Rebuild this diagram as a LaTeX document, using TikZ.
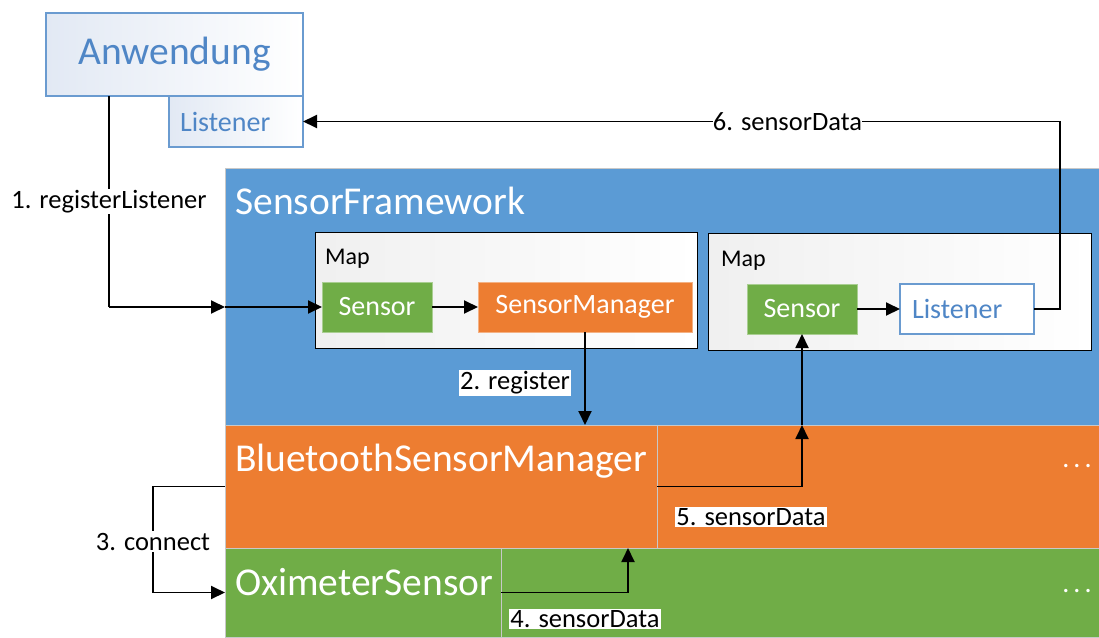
\documentclass[tikz,border=0pt]{standalone}
\usepackage{fontspec}
\setmainfont{Carlito}
\usetikzlibrary{arrows.meta}
\definecolor{fwblue}{HTML}{5B9BD5}
\definecolor{mgrorange}{HTML}{ED7D31}
\definecolor{snsgreen}{HTML}{70AD47}
\definecolor{appblue}{HTML}{4F86C6}
\definecolor{appedge}{HTML}{6A9BD0}
\definecolor{paleblue}{HTML}{E2E9F4}
\definecolor{rimgray}{HTML}{C8C8C8}
\tikzset{
  area/.style={draw=rimgray, line width=1pt, anchor=north west, inner sep=0pt, outer sep=0pt},
  appbox/.style={draw=appedge, line width=1.2pt, left color=paleblue, right color=white,
                 anchor=north west, outer sep=0pt},
  mapbox/.style={draw=black, line width=1pt, left color=black!6, right color=white,
                 anchor=north west, inner sep=0pt, outer sep=0pt},
  item/.style={anchor=north west, inner sep=0pt, outer sep=0pt, minimum height=50pt,
               font=\fontsize{28}{30}\selectfont, text=white},
  bigtitle/.style={anchor=base west, inner sep=0pt, text=white, font=\fontsize{39.5}{41}\selectfont},
  maptitle/.style={anchor=base west, inner sep=0pt, font=\fontsize{24}{26}\selectfont},
  dots/.style={inner sep=0pt, text=white, font=\fontsize{28}{30}\selectfont},
  conn/.style={line width=1.9pt},
  arrowend/.style={-{Triangle[length=14pt,width=13pt]}},
  lbl/.style={fill=white, inner sep=1.5pt, font=\fontsize{26.5}{28}\selectfont},
}
\newcommand{\spreaddots}{.\hspace{4pt}.\hspace{4pt}.}
\begin{document}
\begin{tikzpicture}[x=1pt,y=-1pt]
\useasboundingbox (0,0) rectangle (1099,637);

% application with its listener
\node[appbox, minimum width=257pt, minimum height=83pt, inner sep=0pt,
      text=appblue, font=\fontsize{39.5}{41}\selectfont] (anw) at (46,13) {Anwendung};
\node[appbox, minimum height=51pt, inner xsep=11pt, inner ysep=0pt, text width=112pt,
      align=left, text=appblue, font=\fontsize{28}{30}\selectfont] (lis1) at (169,96) {Listener};

% framework layer
\node[area, fill=fwblue, minimum width=874pt, minimum height=257pt] (sf) at (225,168) {};
\node[bigtitle] (sftitle) at (235,214) {SensorFramework};

\node[mapbox, minimum width=382pt, minimum height=116pt] (map1) at (315,232) {};
\node[maptitle] (map1title) at (325,264) {Map};
\node[item, fill=snsgreen, draw=snsgreen!60!white, minimum width=110pt] (s1) at (322,282) {Sensor};
\node[item, fill=mgrorange, draw=mgrorange!60!white, minimum width=214pt] (sm) at (478,282) {SensorManager};

\node[mapbox, minimum width=383pt, minimum height=117pt] (map2) at (708,233) {};
\node[maptitle] (map2title) at (721,266) {Map};
\node[item, fill=snsgreen, draw=snsgreen!60!white, minimum width=110pt] (s2) at (747,284) {Sensor};
\node[item, fill=white, draw=appedge, line width=1.2pt, minimum width=134pt,
      text width=110pt, inner xsep=12pt, align=left, text=appblue] (lis2) at (900,284) {Listener};

% manager layer
\node[area, fill=mgrorange, minimum width=432pt, minimum height=123pt] (bsm) at (225,425) {};
\node[bigtitle] (bsmtitle) at (235,471) {BluetoothSensorManager};
\node[area, fill=mgrorange, minimum width=442pt, minimum height=123pt] (bsmx) at (657,425) {};
\node[dots] (bsmdots) at (1077,466) {\spreaddots};

% sensor layer
\node[area, fill=snsgreen, minimum width=276pt, minimum height=89pt] (ox) at (225,548) {};
\node[bigtitle] (oxtitle) at (235,595) {OximeterSensor};
\node[area, fill=snsgreen, minimum width=598pt, minimum height=89pt] (oxx) at (501,548) {};
\node[dots] (oxdots) at (1077,591) {\spreaddots};

% routing columns
\coordinate (c1) at (109,0);
\coordinate (c3) at (153,0);
\coordinate (c4) at (628,0);
\coordinate (c6) at (1060,0);

% 1. registerListener
\draw[conn] (anw.south -| c1) -- node[lbl, pos=0.5] (t1) {1. registerListener} (c1 |- s1.west);
\draw[conn, arrowend] (c1 |- s1.west) -- (sf.west |- s1.west);
\draw[conn, arrowend] (sf.west |- s1.west) -- (s1.west);
\draw[conn, arrowend] (s1.east) -- (sm.west);

% 2. register
\draw[conn, arrowend] (sm.south) -- (sm.south |- bsm.north);
\node[lbl] (t2) at (515,383) {2. register};

% 3. connect
\draw[conn, arrowend] (bsm.west) -- (c3 |- bsm.west) -- node[lbl, pos=0.52] (t3) {3. connect} (c3 |- ox.west) -- (ox.west);

% 4. sensorData
\draw[conn, arrowend] (ox.east) -| (c4 |- bsm.south);
\node[lbl] (t4) at (585,619) {4. sensorData};

% 5. sensorData
\draw[conn, arrowend] (bsm.east) -| (s2 |- sf.south);
\draw[conn, arrowend] (s2 |- sf.south) -- (s2.south);
\node[lbl] (t5) at (751,517) {5. sensorData};

% 6. sensorData
\draw[conn, arrowend] (s2.east) -- (lis2.west);
\draw[conn, arrowend] (lis2.east) -- (c6 |- lis2.east) -- (c6 |- lis1.east)
   -- node[lbl, pos=0.36, inner xsep=0pt] (t6) {6. sensorData} (lis1.east);
\end{tikzpicture}
\end{document}
